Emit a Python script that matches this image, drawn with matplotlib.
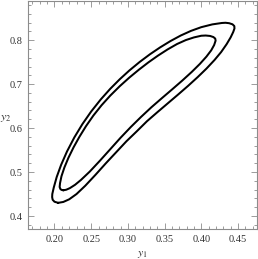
"""
Two nested level curves in the (y1, y2) plane, Mathematica-style frame.

Output
------
  out.png
"""

import matplotlib

matplotlib.use("Agg")

import matplotlib.pyplot as plt
import matplotlib.ticker as ticker

plt.rcParams["font.family"] = ["Liberation Serif", "DejaVu Serif"]
plt.rcParams["mathtext.fontset"] = "stix"

# ── Data ──────────────────────────────────────────────────────────────────────
# outer curve: bottom -> lower branch -> right tip -> upper branch -> bottom
OUTER_Y1 = [0.205, 0.212, 0.220, 0.230, 0.242, 0.256, 0.270, 0.284, 0.298,
            0.312, 0.326, 0.340, 0.354, 0.368, 0.382, 0.395, 0.407, 0.418,
            0.427, 0.4345, 0.440, 0.4435, 0.4452, 0.445, 0.4425, 0.438,
            0.433, 0.428, 0.415, 0.400, 0.386, 0.372, 0.358, 0.344, 0.330,
            0.316, 0.302, 0.289, 0.276, 0.263, 0.250, 0.238, 0.227, 0.217,
            0.209, 0.203, 0.199, 0.197, 0.1968, 0.1975, 0.200, 0.205]
OUTER_Y2 = [0.430, 0.432, 0.438, 0.450, 0.469, 0.494, 0.520, 0.545,
            0.570, 0.5925, 0.6156, 0.6359, 0.6558, 0.6757, 0.6960, 0.7158,
            0.7352, 0.7548, 0.7728, 0.7908, 0.8063, 0.8185, 0.8265, 0.832,
            0.836, 0.8385, 0.8395, 0.839, 0.8358, 0.8295, 0.8211, 0.8105,
            0.7979, 0.7836, 0.7678, 0.7503, 0.7310, 0.7112, 0.6894, 0.6651,
            0.6378, 0.6090, 0.5787, 0.5467, 0.5163, 0.4887, 0.4647, 0.4500,
            0.4430, 0.4370, 0.4325, 0.430]

# inner curve, same orientation
INNER_Y1 = [0.212, 0.216, 0.221, 0.228, 0.236, 0.248, 0.262, 0.276, 0.290,
            0.304, 0.318, 0.332, 0.346, 0.360, 0.374, 0.387, 0.398, 0.407,
            0.4135, 0.4175, 0.4195, 0.419, 0.4165, 0.412, 0.406, 0.400,
            0.390, 0.379, 0.367, 0.354, 0.341, 0.328, 0.315, 0.302, 0.289,
            0.276, 0.264, 0.253, 0.243, 0.234, 0.226, 0.219, 0.2135, 0.2095,
            0.2075, 0.207, 0.208, 0.2095, 0.212]
INNER_Y2 = [0.4585, 0.4598, 0.4635, 0.4710, 0.4820, 0.5010, 0.5260, 0.5520,
            0.5780, 0.6025, 0.6255, 0.6473, 0.6676, 0.6876, 0.7079, 0.7277,
            0.7458, 0.7625, 0.7768, 0.7888, 0.7988, 0.8035, 0.8070, 0.8095,
            0.8105, 0.8100, 0.8062, 0.8002, 0.7912, 0.7788, 0.7648, 0.7495,
            0.7328, 0.7149, 0.6954, 0.6739, 0.6517, 0.6286, 0.6046, 0.5803,
            0.5563, 0.5325, 0.5105, 0.4905, 0.4745, 0.4660, 0.4615, 0.4595,
            0.4585]

X_TICKS = [0.20, 0.25, 0.30, 0.35, 0.40, 0.45]
Y_TICKS = [0.4, 0.5, 0.6, 0.7, 0.8]

# ── Figure ────────────────────────────────────────────────────────────────────
FRAME = "#8c8c8c"
TEXT = "#333333"

fig = plt.figure(figsize=(2.58, 2.59), dpi=100)
ax = fig.add_axes([28 / 258, 30 / 259, 229 / 258, 228 / 259])

for xs, ys in ((OUTER_Y1, OUTER_Y2), (INNER_Y1, INNER_Y2)):
    ax.plot(xs, ys, color="black", linewidth=1.45,
            solid_joinstyle="round", solid_capstyle="round")

ax.set_xlim(0.1639, 0.4759)
ax.set_ylim(0.3705, 0.889)

ax.set_xticks(X_TICKS)
ax.set_xticklabels([f"{v:.2f}" for v in X_TICKS])
ax.set_yticks(Y_TICKS)
ax.set_yticklabels([f"{v:.1f}" for v in Y_TICKS])
ax.xaxis.set_minor_locator(ticker.MultipleLocator(0.01))
ax.yaxis.set_minor_locator(ticker.MultipleLocator(0.02))

ax.tick_params(which="both", direction="in", top=True, right=True,
               color=FRAME, width=0.6, labelsize=7.5, labelcolor=TEXT)
ax.tick_params(which="major", length=4, pad=4)
ax.tick_params(which="minor", length=2)
for sp in ax.spines.values():
    sp.set_color(FRAME)
    sp.set_linewidth(0.8)

ax.set_xlabel("$y_1$", fontsize=8.5, color=TEXT, labelpad=3)
ax.set_ylabel("$y_2$", fontsize=8.5, color=TEXT, rotation=0,
              ha="center", va="center")
ax.yaxis.set_label_coords(-0.098, 0.487)

fig.savefig("out.png", dpi=100)
